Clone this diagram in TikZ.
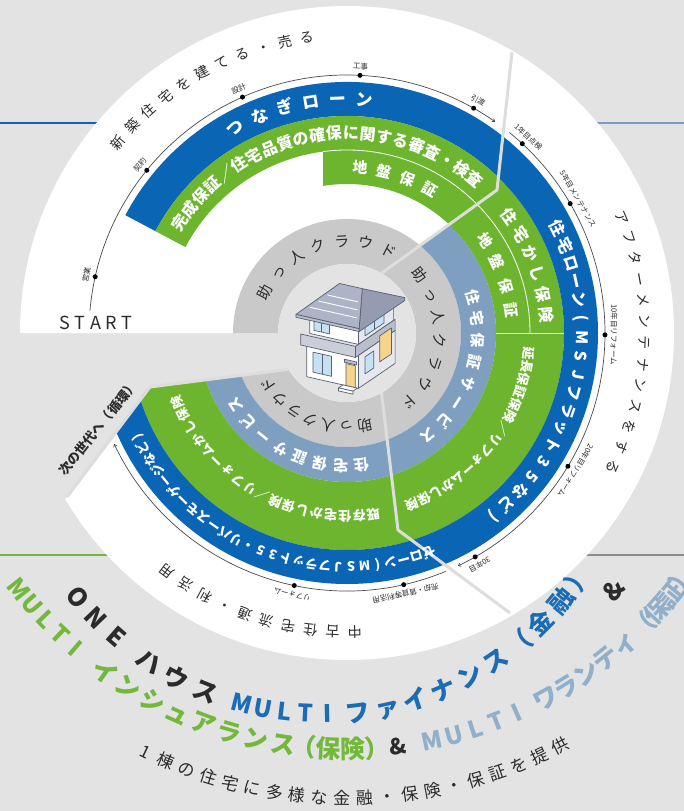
\documentclass[tikz,border=0pt]{standalone}
\usepackage{fontspec}
\setmainfont{Noto Sans CJK JP}
\usetikzlibrary{arrows.meta}

% palette
\definecolor{bgc}{HTML}{E3E3E3}
\definecolor{gapc}{HTML}{DDDDDD}
\definecolor{loanblue}{HTML}{0A65B4}
\definecolor{insgreen}{HTML}{6DB52E}
\definecolor{warslate}{HTML}{7E9FBF}
\definecolor{cloudgray}{HTML}{C9C9C9}
\definecolor{ink}{HTML}{2B2B2B}
\definecolor{lineslate}{HTML}{7A9CC6}
\definecolor{linegray}{HTML}{8A8A8A}
\definecolor{titleblue}{HTML}{1B6CB6}
\definecolor{titlegreen}{HTML}{72B83A}
\definecolor{titleslate}{HTML}{8FAFCB}
\definecolor{roofc}{HTML}{AEB4C7}
\definecolor{roofside}{HTML}{959CB2}
\definecolor{bandc}{HTML}{B9BECD}
\definecolor{houseside}{HTML}{E6E8EF}
\definecolor{housel}{HTML}{5B6070}
\definecolor{glassc}{HTML}{C4E2F3}
\definecolor{doorc}{HTML}{F6D48B}

\newcounter{glyphno}
\newlength\glw
\newcommand\glstrut{\rule[-0.12em]{0pt}{1em}}

% glyphs of #6 along a circle of radius #2; leading edge of the first glyph at angle #3,
% direction #4 (-1 clockwise, 1 counterclockwise), extra gap #5 after each glyph, font #1
\newcommand\arcrun[6]{%
  \gdef\arcacc{0}%
  \foreach \gl in {#6}{%
    \settowidth\glw{#1\gl}%
    \pgfmathsetmacro\glang{#3+#4*(\arcacc+0.5*\glw)/#2*180/pi}%
    \stepcounter{glyphno}%
    \node[glyphbox, rotate=\glang+#4*90] (glyph-\theglyphno) at (\glang:#2) {#1\glstrut\gl};%
    \pgfmathsetmacro\glacc{\arcacc+\glw+#5}%
    \global\let\arcacc\glacc
  }%
}
% glyphs of #5 spread so that the first is centred at angle #3 and the last at angle #4
\newcommand\arcfit[5]{%
  \gdef\glsum{0}\gdef\gln{0}\gdef\glfirst{0}\gdef\gllast{0}%
  \foreach \gl in {#5}{%
    \settowidth\glw{#1\gl}%
    \pgfmathsetmacro\glt{\glsum+\glw}\global\let\glsum\glt
    \pgfmathtruncatemacro\glt{\gln+1}\global\let\gln\glt
    \pgfmathsetmacro\glt{\glw}\global\let\gllast\glt
    \ifnum\gln=1 \global\let\glfirst\glt\fi
  }%
  \pgfmathsetmacro\gldir{(#4>#3)?1:-1}%
  \pgfmathsetmacro\glgap{(abs(#4-#3)*pi/180*#2-\glsum+(\glfirst+\gllast)/2)/max(\gln-1,1)}%
  \pgfmathsetmacro\glstart{#3-\gldir*0.5*\glfirst/#2*180/pi}%
  \arcrun{#1}{#2}{\glstart}{\gldir}{\glgap}{#5}%
}

\newcommand\fsz[1]{\fontsize{#1}{#1}\selectfont}

\begin{document}
\begin{tikzpicture}[x=1pt, y=1pt,
  glyphbox/.style={inner sep=0pt, anchor=center},
  sepline/.style={draw=white, line width=0.8pt},
  divider/.style={draw=gapc, line width=3pt, line join=round},
  timeline/.style={draw=ink!85, line width=0.7pt},
  tipped/.style={-{To[length=3pt, width=4pt]}},
  dot/.style={circle, fill=black, inner sep=0pt, minimum size=5pt},
  tl/.style={font=\fsz{7.5}, text=ink, inner sep=0pt},
  hs/.style={draw=housel, line width=0.7pt, line join=round}]

\useasboundingbox (-347,-478) rectangle (337,333);
\fill[bgc] (-347,-478) rectangle (337,333);

% coloured rules running in from the page edges
\draw[loanblue, line width=2.5pt] (-347,210) -- (-200,210);
\draw[lineslate, line width=2.5pt] (200,210) -- (337,210);
\draw[titlegreen, line width=2.5pt] (-347,-222) -- (-200,-222);
\draw[linegray, line width=2.5pt] (200,-222) -- (337,-222);

% sector boundaries (inner point, kink, outer point, outward extension)
\coordinate (D1in) at (60:69);    \coordinate (K1) at (150,143);
\coordinate (D1out) at (165,281); \coordinate (D1x) at (172.5,350);
\coordinate (D2in) at (-60:69);   \coordinate (K2) at (51,-197);
\coordinate (D2out) at (163,-280);\coordinate (D2x) at (219,-321.5);
\coordinate (D3in) at (211.7:69); \coordinate (K3) at (-197,-54);
\coordinate (D3out) at (-280,-164);\coordinate (D3x) at (-321.5,-219);

% --- new build sector ---
\begin{scope}
  \clip (0,0) -- (D1in) -- (K1) -- (D1x) -- (-400,400) -- (-400,0) -- cycle;
  \fill[white] (0,0) circle[radius=327];
  \fill[cloudgray, even odd rule] (0,0) circle[radius=114] circle[radius=69];
  \fill[loanblue] (152:251) arc[start angle=152, end angle=20, radius=251]
     -- (20:217) arc[start angle=20, end angle=152, radius=217] -- cycle;
  \fill[insgreen] (152:217) arc[start angle=152, end angle=20, radius=217]
     -- (20:183) arc[start angle=20, end angle=152, radius=183] -- cycle;
  \begin{scope}
    \clip (-24,0) rectangle (400,400);
    \fill[insgreen, even odd rule] (0,0) circle[radius=183] circle[radius=149];
  \end{scope}
  \draw[sepline] (97.5:183) arc[start angle=97.5, end angle=20, radius=183];
\end{scope}

% --- after-maintenance sector ---
\begin{scope}
  \clip (0,0) -- (D1in) -- (K1) -- (D1x) -- (400,400) -- (400,-400) -- (D2x) -- (K2) -- (D2in) -- cycle;
  \fill[white] (0,0) circle[radius=327];
  \fill[cloudgray, even odd rule] (0,0) circle[radius=114] circle[radius=69];
  \fill[warslate, even odd rule] (0,0) circle[radius=149] circle[radius=114];
  \fill[insgreen, even odd rule] (0,0) circle[radius=217] circle[radius=149];
  \fill[loanblue, even odd rule] (0,0) circle[radius=251] circle[radius=217];
  \draw[sepline] (80:183) arc[start angle=80, end angle=0, radius=183];
  \draw[sepline] (0:149) -- (0:217);
\end{scope}

% --- resale sector ---
\begin{scope}
  \clip (0,0) -- (D2in) -- (K2) -- (D2x) -- (400,-400) -- (-400,-400) -- (D3x) -- (K3) -- (D3in) -- cycle;
  \fill[white] (0,0) circle[radius=327];
  \fill[cloudgray, even odd rule] (0,0) circle[radius=114] circle[radius=69];
  \fill[warslate, even odd rule] (0,0) circle[radius=149] circle[radius=114];
  \fill[insgreen, even odd rule] (0,0) circle[radius=217] circle[radius=149];
  \fill[loanblue, even odd rule] (0,0) circle[radius=251] circle[radius=217];
\end{scope}

% gaps between the sectors
\draw[divider] (D1in) -- (K1) -- (D1out);
\draw[divider] (D2in) -- (K2) -- (D2out);
\draw[divider] (D3in) -- (K3) -- (D3out);

% hub
\fill[bgc] (0,0) circle[radius=69];

% time lines
\draw[timeline, tipped] (175:258) arc[start angle=175, end angle=55, radius=258];
\draw[timeline, tipped] (51:258) arc[start angle=51, end angle=-64.5, radius=258];
\draw[timeline, tipped] (-67.5:258) arc[start angle=-67.5, end angle=-154.5, radius=258];

\foreach \a/\t [count=\i] in {167.4/営業, 140.9/契約, 113.9/設計, 87.1/工事, 60.6/引渡,
    47.2/1年目点検, 30.1/5年目メンテナンス, -0.4/10年目リフォーム, -31.1/20年目リフォーム, -60.2/30年目,
    -77.3/売却・賃貸等利活用, -101.8/リフォーム}{
  \node[dot] (dot\i) at (\a:258) {};
  \node[tl, rotate=\a-90] (lab\i) at (\a:267) {\t};
}

% outer captions
\arcfit{\fsz{14}\color{ink}}{298}{140.3}{97.8}{新,築,住,宅,を,建,て,る,・,売,る}
\arcfit{\fsz{14}\color{ink}}{298}{22.8}{-26.7}{ア,フ,タ,ー,メ,ン,テ,ナ,ン,ス,を,す,る}
\arcfit{\fsz{14}\color{ink}}{299}{-88.5}{-127}{中,古,住,宅,流,通,・,利,活,用}

% ring labels, new build
\arcfit{\fsz{17}\bfseries\color{white}}{234}{118.5}{85.6}{つ,な,ぎ,ロ,ー,ン}
\arcfit{\fsz{16}\bfseries\color{white}}{200}{146.6}{50.3}{完,成,保,証,／,住,宅,品,質,の,確,保,に,関,す,る,審,査,・,検,査}
\arcfit{\fsz{15}\bfseries\color{white}}{166}{85.5}{59.9}{地,盤,保,証}
\arcfit{\fsz{15}\color{ink}}{92}{153.4}{63.2}{助,っ,人,ク,ラ,ウ,ド}

% ring labels, after maintenance
\arcfit{\fsz{16}\bfseries\color{white}}{235}{26.5}{-51.6}{住,宅,ロ,ー,ン,{(},M,S,J,フ,ラ,ッ,ト,3,5,な,ど,{)}}
\arcfit{\fsz{16}\bfseries\color{white}}{200}{35.8}{5.2}{住,宅,か,し,保,険}
\arcfit{\fsz{15}\bfseries\color{white}}{166}{33.8}{8.0}{地,盤,保,証}
\arcfit{\fsz{13}\bfseries\color{white}}{183}{-6.3}{-69.2}{延,長,保,証,保,険,／,リ,フ,ォ,ー,ム,か,し,保,険}
\arcfit{\fsz{15}\bfseries\color{white}}{131}{16.1}{-51.7}{住,宅,保,証,サ,ー,ビ,ス}
\arcfit{\fsz{15}\color{ink}}{93}{38.5}{-47.6}{助,っ,人,ク,ラ,ウ,ド}

% ring labels, resale
\arcfit{\fsz{13}\bfseries\color{white}}{234}{-69.5}{-153.7}{ゼ,ロ,ー,ン,{(},M,S,J,フ,ラ,ッ,ト,3,5,・,リ,バ,ー,ス,モ,ー,ゲ,ー,ジ,な,ど,{)}}
\arcfit{\fsz{13}\bfseries\color{white}}{183}{-81.7}{-157.8}{既,存,住,宅,か,し,保,険,／,リ,フ,ォ,ー,ム,か,し,保,険}
\arcfit{\fsz{15}\bfseries\color{white}}{133}{-83.6}{-147}{住,宅,保,証,サ,ー,ビ,ス}
\arcfit{\fsz{15}\color{ink}}{94}{-79}{-146.2}{助,っ,人,ク,ラ,ウ,ド}

% free labels
\node[anchor=base, font=\fsz{18}, text=ink, inner sep=0pt] (start) at (-251,3)
  {S\kern4.5pt T\kern4.5pt A\kern4.5pt R\kern4.5pt T};
\node[rotate=51, font=\fsz{13}\bfseries, text=ink, inner sep=0pt] (nextgen) at (-249,-95) {次の世代へ（循環）};

% house
\begin{scope}[shift={(-40.3,-43.7)}, x={(0.517pt,-0.117pt)}, y={(0pt,1pt)}, z={(0.367pt,0.25pt)}]
  \filldraw[hs, fill=houseside] (100,0,0) -- (100,0,100) -- (100,33,100) -- (100,33,0) -- cycle;
  \filldraw[hs, fill=white] (0,0,0) -- (100,0,0) -- (100,33,0) -- (0,33,0) -- cycle;
  \filldraw[hs, fill=houseside] (100,44,0) -- (100,44,96) -- (100,66,96) -- (100,66,0) -- cycle;
  \filldraw[hs, fill=white] (6,44,0) -- (100,44,0) -- (100,66,0) -- (6,66,0) -- cycle;
  % balcony band
  \filldraw[hs, fill=bandc] (100,33,-8) -- (100,33,100) -- (100,44,100) -- (100,44,-8) -- cycle;
  \filldraw[hs, fill=bandc!75!white] (-6,33,-8) -- (100,33,-8) -- (100,44,-8) -- (-6,44,-8) -- cycle;
  % windows
  \filldraw[hs, fill=glassc] (14,48,0) -- (44,48,0) -- (44,62,0) -- (14,62,0) -- cycle;
  \draw[hs] (29,48,0) -- (29,62,0);
  \filldraw[hs, fill=glassc] (100,48,18) -- (100,48,70) -- (100,62,70) -- (100,62,18) -- cycle;
  \draw[hs] (100,48,44) -- (100,62,44);
  \filldraw[hs, fill=glassc] (12,6,0) -- (48,6,0) -- (48,26,0) -- (12,26,0) -- cycle;
  \draw[hs] (30,6,0) -- (30,26,0);
  \filldraw[hs, fill=glassc] (100,10,18) -- (100,10,42) -- (100,27,42) -- (100,27,18) -- cycle;
  \filldraw[hs, fill=doorc] (100,12,58) -- (100,12,90) -- (100,38,90) -- (100,38,58) -- cycle;
  % door, canopy, step
  \filldraw[hs, fill=doorc] (76,0,0) -- (94,0,0) -- (94,22,0) -- (76,22,0) -- cycle;
  \filldraw[hs, fill=bandc] (73,23,0) -- (97,23,0) -- (97,26,0) -- (73,26,0) -- cycle;
  \filldraw[hs, fill=white] (70,0,-12) -- (98,0,-12) -- (98,0,0) -- (70,0,0) -- cycle;
  \filldraw[hs, fill=white] (70,-3,-12) -- (98,-3,-12) -- (98,0,-12) -- (70,0,-12) -- cycle;
  % roof
  \filldraw[hs, fill=bandc] (-12,61,-12) -- (110,61,-12) -- (110,64,-12) -- (-12,64,-12) -- cycle;
  \filldraw[hs, fill=roofside] (110,61,-12) -- (110,61,112) -- (110,64,112) -- (72,84,50) -- (110,64,-12) -- cycle;
  \filldraw[hs, fill=roofc] (-12,64,-12) -- (110,64,-12) -- (72,84,50) -- (28,84,50) -- cycle;
  \foreach \s in {0.25,0.45,0.65}{
    \draw[white, line width=0.9pt] ({-12+40*\s+6},{64+20*\s},{-12+62*\s}) -- ({110-38*\s-6},{64+20*\s},{-12+62*\s});
  }
\end{scope}

% first title line, on its own arc
\begin{scope}[shift={(-27,-70)}]
  \arcfit{\fsz{25}\bfseries\color{ink}}{310}{218.7}{228.9}{O,N,E}
  \arcfit{\fsz{25}\bfseries\color{ink}}{310}{236.5}{248.3}{ハ,ウ,ス}
  \arcfit{\fsz{24}\bfseries\color{titleblue}}{310}{255.5}{271.3}{M,U,L,T,I}
  \arcfit{\fsz{25}\bfseries\color{titleblue}}{312}{277}{326}{フ,ァ,イ,ナ,ン,ス,（,金,融,）}
\end{scope}
\node[glyphbox, rotate=50] (amp1) at (266,-257) {\fsz{25}\bfseries\color{ink}\glstrut\&};

% second title line
\arcfit{\fsz{24}\bfseries\color{titlegreen}}{416}{218}{229.2}{M,U,L,T,I}
\arcfit{\fsz{25}\bfseries\color{titlegreen}}{416}{234.5}{261.2}{イ,ン,シ,ュ,ア,ラ,ン,ス}
\arcfit{\fsz{25}\bfseries\color{titlegreen}}{416}{264.1}{274.2}{（,保,険,）}
\node[glyphbox, rotate=367] (amp2) at (277:416) {\fsz{22}\bfseries\color{ink}\glstrut\&};
\arcfit{\fsz{24}\bfseries\color{titleslate}}{416}{281.8}{294.1}{M,U,L,T,I}
\arcfit{\fsz{25}\bfseries\color{titleslate}}{416}{298.5}{311.8}{ワ,ラ,ン,テ,ィ}
\arcfit{\fsz{25}\bfseries\color{titleslate}}{416}{315.2}{324}{（,保,証,）}

% tagline
\arcfit{\fsz{17}\color{ink}}{465}{244.3}{297.3}{1,棟,の,住,宅,に,多,様,な,金,融,・,保,険,・,保,証,を,提,供}

\end{tikzpicture}
\end{document}
